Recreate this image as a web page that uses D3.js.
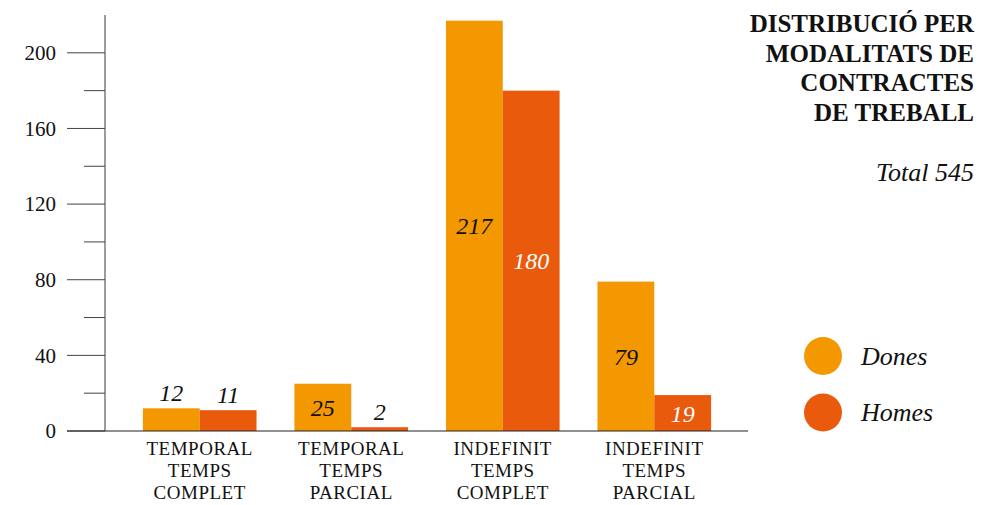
<!DOCTYPE html>
<html><head><meta charset="utf-8">
<script src="https://cdn.jsdelivr.net/npm/d3@7"></script>
<style>body{margin:0;background:#fff}svg{display:block}text{font-family:"Liberation Serif","DejaVu Serif",serif}</style>
</head><body><svg id="c" width="984" height="505"></svg>
<script>
const categories = [["TEMPORAL","TEMPS","COMPLET"],["TEMPORAL","TEMPS","PARCIAL"],["INDEFINIT","TEMPS","COMPLET"],["INDEFINIT","TEMPS","PARCIAL"]];
const series = ["Dones","Homes"];
const dones = [12,25,217,79];
const homes = [11,2,180,19];
const colors = ["#F39800","#E95A0C"];
const majorTicks = [0,40,80,120,160,200];
const minorTicks = [20,60,100,140,180];
const titleLines = ["DISTRIBUCIÓ PER","MODALITATS DE","CONTRACTES","DE TREBALL"];
const totalLabel = "Total 545";

const svg = d3.select("#c");
const y = d3.scaleLinear().domain([0,220]).range([431,15]);
const x = d3.scaleBand().domain(d3.range(categories.length)).range([105,749]).paddingInner(0.25).paddingOuter(0.25);
const xs = d3.scaleBand().domain(series).range([0,x.bandwidth()]);

// axis line
svg.append("line").attr("x1",105).attr("x2",105).attr("y1",y(220)).attr("y2",y(0)).attr("stroke","#666").attr("stroke-width",1.3);
svg.selectAll(".maj").data(majorTicks).join("line").attr("x1",67).attr("x2",105).attr("y1",d=>y(d)).attr("y2",d=>y(d)).attr("stroke","#444").attr("stroke-width",1);
svg.selectAll(".min").data(minorTicks).join("line").attr("x1",84).attr("x2",105).attr("y1",d=>y(d)).attr("y2",d=>y(d)).attr("stroke","#444").attr("stroke-width",1);
svg.selectAll(".tl").data(majorTicks).join("text").attr("x",56).attr("y",d=>y(d)).attr("dy","0.34em").attr("text-anchor","end").attr("font-size",21).attr("fill","#111").text(d=>d);

const data = [];
categories.forEach((c,i)=>{data.push({i,s:"Dones",v:dones[i]});data.push({i,s:"Homes",v:homes[i]});});
svg.selectAll(".bar").data(data).join("rect")
  .attr("x",d=>x(d.i)+xs(d.s)).attr("width",xs.bandwidth())
  .attr("y",d=>y(d.v)).attr("height",d=>y(0)-y(d.v))
  .attr("fill",d=>colors[series.indexOf(d.s)]);

// baseline
svg.append("line").attr("x1",67).attr("x2",748).attr("y1",y(0)).attr("y2",y(0)).attr("stroke","#222").attr("stroke-width",1.2);

// value labels
const inside = d => (y(0)-y(d.v)) > 30;
svg.selectAll(".vl").data(data).join("text")
  .attr("x",d=>x(d.i)+xs(d.s)+xs.bandwidth()/2)
  .attr("y",d=> inside(d) ? (y(d.v)+y(0))/2 + 8.5 : y(d.v)-7)
  .attr("text-anchor","middle").attr("font-style","italic").attr("font-size",24)
  .attr("fill",d=> (inside(d) && d.s==="Homes") ? "#fff" : "#111")
  .text(d=>d.v);

// x labels
categories.forEach((c,i)=>{
  const t = svg.append("text").attr("text-anchor","middle").attr("font-size",19).attr("letter-spacing",0.5).attr("fill","#111");
  c.forEach((l,j)=>t.append("tspan").attr("x",x(i)+x.bandwidth()/2).attr("y",455+j*21.8).text(l));
});

// title
const tt = svg.append("text").attr("text-anchor","end").attr("font-size",25).attr("font-weight","bold").attr("fill","#111");
titleLines.forEach((l,j)=>tt.append("tspan").attr("x",974).attr("y",32+j*29.6).text(l));
svg.append("text").attr("x",974).attr("y",181).attr("text-anchor","end").attr("font-size",26).attr("font-style","italic").attr("fill","#111").text(totalLabel);

// legend
series.forEach((s,k)=>{
  svg.append("circle").attr("cx",823).attr("cy",356+k*56.5).attr("r",19).attr("fill",colors[k]);
  svg.append("text").attr("x",861).attr("y",356+k*56.5).attr("dy","0.33em").attr("font-size",26).attr("font-style","italic").attr("fill","#111").text(s);
});
</script></body></html>
